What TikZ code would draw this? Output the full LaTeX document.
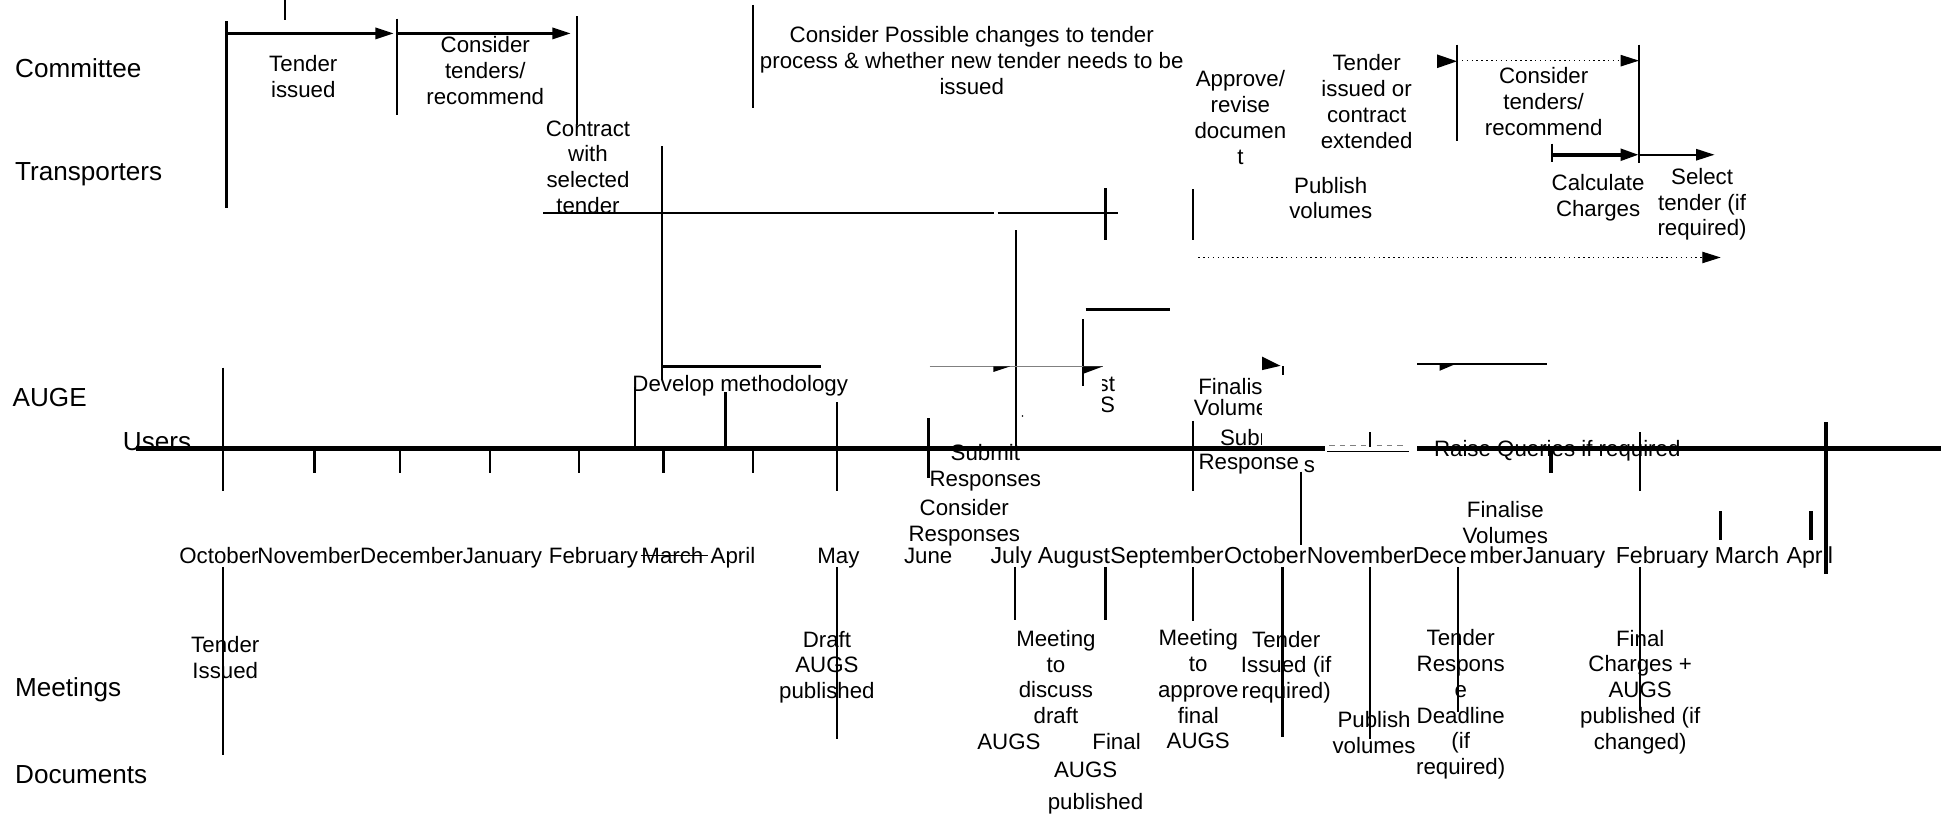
\documentclass[tikz,border=0pt]{standalone}
\usepackage{fontspec}
\setmainfont{Liberation Sans}
\usetikzlibrary{arrows.meta}

\tikzset{
	lane/.style={font=\fontsize{15}{18}\selectfont, anchor=base west, inner sep=0pt},
	note/.style={font=\fontsize{12.8}{14.8}\selectfont, align=center, inner sep=0pt},
	monthlabel/.style={font=\fontsize{12.8}{14.8}\selectfont, anchor=base west, inner sep=0pt},
	vline/.style={line width=1.3pt},
	arrowline/.style={line width=1.3pt, -{Triangle[length=10.5pt,width=6.5pt]}},
	faint/.style={line width=0.4pt, gray},
	dotline/.style={line width=0.8pt, dash pattern=on 0.8pt off 2pt, -{Triangle[length=10.5pt,width=6.5pt]}}
}

\begin{document}
\begin{tikzpicture}[x=0.025cm, y=-0.025cm]
	\useasboundingbox (0,0) rectangle (1568,659);
	\coordinate (T0) at (110,362);
	\coordinate (Tgap) at (1070,362);
	\coordinate (Tback) at (1145,362);
	\coordinate (T1) at (1568,362);

	% lanes
	\node[lane] (committee) at (12,62.5) {Committee};
	\node[lane] (transporters) at (12,145.5) {Transporters};
	\node[lane] (auge) at (10,328.5) {AUGE};
	\node[lane] (users) at (99,364) {Users};
	\node[lane] (meetings) at (12,563) {Meetings};
	\node[lane] (documents) at (12,633) {Documents};

	% committee / transporters
	\node[note] (tenderissued) at (245,62) {Tender\\issued};
	\node[note] (considera) at (392,57) {Consider\\tenders/\\recommend};
	\node[note] (contract) at (475,135) {Contract\\with\\selected\\tender};
	\node[note] (possible) at (785,49) {Consider Possible changes to tender\\process \& whether new tender needs to be\\issued};
	\node[note] (approve) at (1002,95) {Approve/\\revise\\documen\\t};
	\node[note] (tenderext) at (1104,82) {Tender\\issued or\\contract\\extended};
	\node[note] (considerb) at (1247,82) {Consider\\tenders/\\recommend};
	\node[note] (publisha) at (1075,160) {Publish\\volumes};
	\node[note] (calc) at (1291,160) {Calculate\\Charges};
	\node[note] (select) at (1375,165) {Select\\tender (if\\required)};

	% auge / users
	\node[note] (develop) at (598,312) {Develop methodology};
	\begin{scope}
		\clip (891,298) rectangle (910,340);
		\node[note, align=right, anchor=east, font=\fontsize{12.8}{12.4}\selectfont] (frag) at (901,319) {ost\\GS};
	\end{scope}
	\begin{scope}
		\clip (940,298) rectangle (1019,340);
		\node[note, font=\fontsize{12.8}{12.2}\selectfont] (finalisea) at (999,321) {Finalise\\Volumes};
	\end{scope}
	\begin{scope}
		\clip (960,338) rectangle (1019,362);
		\node[note] (submitb) at (1013.6,353.5) {Submit};
	\end{scope}
	\node[note, anchor=base west] (responseb) at (968,379.5) {Response};
	\node[note, anchor=base west] (responsec) at (1053,382) {s};
	\node[note] (submita) at (796,378) {Submit\\Responses};
	\node[note] (consresp) at (779,422) {Consider\\Responses};
	\node[note] (raise) at (1258,364) {Raise Queries if required};
	\node[note] (finaliseb) at (1216,422) {Finalise\\Volumes};

	% months
	\node[monthlabel] (octa) at (144.6,455) {October};
	\node[monthlabel] (nova) at (207.7,455) {November};
	\node[monthlabel] (deca) at (290.7,455) {December};
	\node[monthlabel] (jana) at (373.6,455) {January};
	\node[monthlabel] (feba) at (443.2,455) {February};
	\node[monthlabel] (mara) at (517.9,455) {March};
	\node[monthlabel] (apra) at (573.8,455) {April};
	\node[monthlabel] (may) at (660,455) {May};
	\node[monthlabel] (june) at (730,455) {June};
	\node[monthlabel, font=\fontsize{13.3}{15}\selectfont] (july) at (800,455) {July};
	\node[monthlabel, font=\fontsize{13.3}{15}\selectfont] (aug) at (838.2,455) {August};
	\node[monthlabel, font=\fontsize{13.3}{15}\selectfont] (sep) at (896.7,455) {September};
	\node[monthlabel, font=\fontsize{13.3}{15}\selectfont] (octb) at (988.6,455) {October};
	\node[monthlabel, font=\fontsize{13.3}{15}\selectfont] (novb) at (1055.4,455) {November};
	\node[monthlabel, font=\fontsize{13.3}{15}\selectfont] (decb) at (1141,455) {Dece};
	\node[monthlabel, font=\fontsize{13.3}{15}\selectfont] (decc) at (1187,455) {mber};
	\node[monthlabel, font=\fontsize{13.3}{15}\selectfont] (janb) at (1230,455) {January};
	\node[monthlabel, font=\fontsize{13.3}{15}\selectfont] (febb) at (1305,455) {February};
	\node[monthlabel, font=\fontsize{13.3}{15}\selectfont] (marb) at (1385,455) {March};
	\node[monthlabel, font=\fontsize{13.3}{15}\selectfont] (aprb) at (1443,455) {April};
	\draw[line width=0.6pt] (517.5,449) -- (572,449);

	% meetings / documents
	\node[note] (tenderiss) at (182,531) {Tender\\Issued};
	\node[note] (draft) at (668,539) {Draft\\AUGS\\published};
	\node[note] (meetdraft) at (853,547) {Meeting\\to\\discuss\\draft};
	\node[note] (augsa) at (815,599) {AUGS};
	\node[note] (finala) at (902,599) {Final};
	\node[note] (augsb) at (877,622) {AUGS};
	\node[note] (publishedb) at (885,649) {published};
	\node[note] (meetfinal) at (968,557) {Meeting\\to\\approve\\final\\AUGS};
	\node[note] (tenderif) at (1039,539) {Tender\\Issued (if\\required)};
	\node[note] (publishb) at (1110,592) {Publish\\volumes};
	\node[note] (tenderresp) at (1180,569) {Tender\\Respons\\e\\Deadline\\(if\\required)};
	\node[note] (finalcharges) at (1325,559) {Final\\Charges +\\AUGS\\published (if\\changed)};

	% committee lines
	\draw[vline] (230,0) -- (230,16);
	\draw[vline] (183,17) -- (183,168);
	\draw[arrowline] (183,27) -- (318,27);
	\draw[vline] (321,15) -- (321,93);
	\draw[arrowline] (321,27) -- (461,27);
	\draw[vline] (466,13) -- (466,101);
	\draw[vline] (608,4) -- (608,87);
	\draw[vline] (439,172) -- (803,172);
	\draw[vline] (806,172) -- (903,172);
	\draw[vline] (893,152) -- (893,194);
	\draw[vline] (964,153) -- (964,194);
	\fill (1161,44) -- (1177,49.5) -- (1161,55) -- cycle;
	\draw[vline] (1177,36) -- (1177,114);
	\draw[dotline] (1177,49) -- (1324,49);
	\draw[line width=0.8pt] (1324,36) -- (1324,132);
	\draw[vline] (1254,116) -- (1254,131);
	\draw[arrowline, line width=2.2pt] (1254,125) -- (1324,125);
	\draw[arrowline, line width=1pt] (1324,125) -- (1385,125);
	\draw[dotline, line width=0.6pt] (968,208) -- (1390,208);

	% auge lines
	\draw[vline] (535,118) -- (535,307);
	\draw[vline] (535,296) -- (663,296);
	\draw[vline] (821,186) -- (821,360);
	\draw[vline] (877,250) -- (945,250);
	\draw[vline] (875,258) -- (875,312);
	\draw[faint] (751,296) -- (891,296);
	\fill (802.5,296) -- (816,296) -- (802.5,300.5) -- cycle;
	\fill (875,296) -- (891,296) -- (875,302) -- cycle;
	\fill (1019.5,288) -- (1034.5,295.5) -- (1019.5,299) -- cycle;
	\draw[vline] (1036.5,296) -- (1036.5,303);
	\draw[vline] (1145,294) -- (1250,294);
	\fill (1163,294) -- (1176,294) -- (1163,299.5) -- cycle;
	\fill (826,336) circle (0.7);

	% timeline
	\draw[line width=3pt] (T0) -- (Tgap);
	\draw[line width=0.8pt] (1072,364.5) -- (1138,364.5);
	\draw[faint, line width=0.6pt, dash pattern=on 3pt off 3pt] (1074,360) -- (1104,360);
	\draw[faint, line width=0.6pt, dash pattern=on 3pt off 3pt] (1112,360) -- (1136,360);
	\draw[vline] (1107,349) -- (1107,361);
	\draw[line width=3pt] (Tback) -- (T1);

	\draw[vline] (180,297) -- (180,397);
	\draw[vline] (254,364) -- (254,382);
	\draw[vline] (323,364) -- (323,382);
	\draw[vline] (396,364) -- (396,382);
	\draw[vline] (468,364) -- (468,382);
	\draw[vline] (536,364) -- (536,382);
	\draw[vline] (608,364) -- (608,382);
	\draw[vline] (513,313) -- (513,362);
	\draw[vline] (586,317) -- (586,361);
	\draw[vline] (676,325) -- (676,397);
	\draw[vline] (750,338) -- (750,386);
	\draw[vline] (964,340) -- (964,397);
	\draw[vline] (1051,381) -- (1051,440);
	\draw[line width=2.4pt] (1253,362) -- (1253,382);
	\draw[vline] (1325,349) -- (1325,397);
	\draw[line width=1.8pt] (1390,413) -- (1390,436);
	\draw[line width=1.8pt] (1463,413) -- (1463,436);
	\draw[line width=2pt] (1475,341) -- (1475,464);

	% meeting lines
	\draw[vline] (180,458) -- (180,610);
	\draw[vline] (676,458) -- (676,597);
	\draw[vline] (820,458) -- (820,501);
	\draw[vline] (893,458) -- (893,501);
	\draw[vline] (964,458) -- (964,502);
	\draw[vline] (1036,458) -- (1036,595);
	\draw[vline] (1107,458) -- (1107,597);
	\draw[vline] (1178,458) -- (1178,575);
	\draw[vline] (1325,458) -- (1325,574);
\end{tikzpicture}
\end{document}
